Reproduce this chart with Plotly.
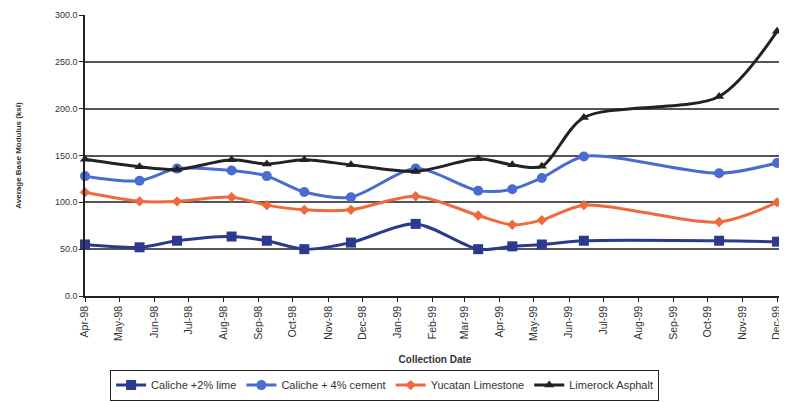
import plotly.graph_objects as go

# collection dates (same for all four sections)
dates = ["1998-04-01", "1998-05-19", "1998-06-21", "1998-08-08", "1998-09-08",
         "1998-10-11", "1998-11-21", "1999-01-17", "1999-03-13", "1999-04-12",
         "1999-05-08", "1999-06-14", "1999-10-11", "1999-12-01"]

lime = [55, 52, 59, 63.5, 59, 50, 57, 77, 50, 53, 55, 59, 59, 58]
cement = [128, 123, 136, 134, 128, 111, 105.5, 136, 112.5, 114, 126, 149, 131, 142]
yucatan = [110.7, 101, 101, 105.5, 97, 92, 92, 106.5, 86, 76, 81, 97, 79, 100]
limerock = [146, 138, 135, 145.5, 141, 145.5, 140, 133, 146.5, 140, 138.5, 190.6, 213, 282.6]

names = ["Caliche +2% lime", "Caliche + 4% cement", "Yucatan Limestone", "Limerock Asphalt"]
colors = ["#2b3a8f", "#4a6bd0", "#f0693c", "#222222"]
symbols = ["square", "circle", "diamond", "triangle-up"]
sizes = [10, 10, 8, 9]

fig = go.Figure()
for i, ys in enumerate([lime, cement, yucatan, limerock]):
    fig.add_trace(go.Scatter(
        x=dates, y=ys, name=names[i], mode="lines+markers", cliponaxis=False,
        line=dict(color=colors[i], width=3, shape="spline", smoothing=0.8),
        marker=dict(symbol=symbols[i], size=sizes[i], color=colors[i]),
    ))

# page body has an 8px margin, so the figure is sized/offset to compensate
fig.update_layout(
    width=779, height=394,
    margin=dict(l=77, r=2, t=7, b=99),
    paper_bgcolor="white", plot_bgcolor="white",
    font=dict(family="Liberation Sans, Arial", size=9, color="#333"),
    showlegend=True,
    legend=dict(orientation="h", x=0.428, xanchor="center", y=-0.262, yanchor="top",
                bordercolor="#222", borderwidth=1, font=dict(size=11, color="#333"),
                tracegroupgap=0),
)
fig.update_xaxes(
    type="date", range=["1998-04-01", "1999-12-08"], automargin=False,
    dtick="M1", tick0="1998-04-01", tickformat="%b-%y", tickangle=-90,
    tickfont=dict(size=10.5),
    showgrid=False, showline=True, linecolor="#222", linewidth=1.5,
    ticks="outside", ticklen=4, tickcolor="#222",
    title=dict(text="<b>Collection Date</b>", font=dict(size=10, color="#333"), standoff=16),
)
fig.update_yaxes(
    range=[0, 300], dtick=50, tickformat=".1f", automargin=False,
    showgrid=True, gridcolor="#555", gridwidth=1.5,
    showline=True, linecolor="#222", linewidth=1.5,
    ticks="outside", ticklen=4, tickcolor="#222", zeroline=False,
    title=dict(text="<b>Average Base Modulus (ksi)</b>", font=dict(size=8, color="#333"), standoff=32),
)

fig.write_html("out.html")
